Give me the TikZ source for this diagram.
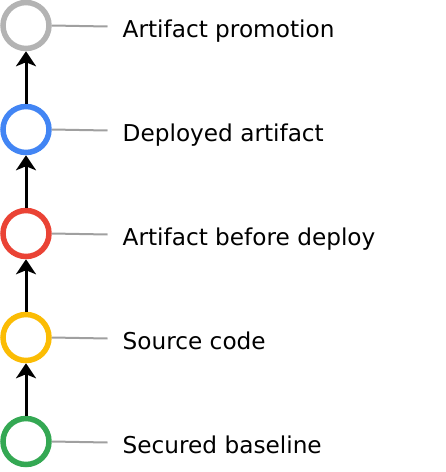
\documentclass[tikz,border=0pt]{standalone}
\usepackage{fontspec}
\setmainfont{DejaVu Sans}
\usetikzlibrary{arrows.meta}
\definecolor{cgray}{HTML}{B3B3B3}
\definecolor{cblue}{HTML}{4285F4}
\definecolor{cred}{HTML}{EA4335}
\definecolor{cyellow}{HTML}{FBBC04}
\definecolor{cgreen}{HTML}{34A853}
\definecolor{clead}{HTML}{A0A0A0}
\tikzset{
  ring/.style={circle, draw=#1, line width=5.5pt, fill=white, minimum size=46pt, inner sep=0pt},
  lead/.style={draw=clead, line width=2pt},
  up/.style={draw=black, line width=3pt, -{Stealth[length=15pt, width=20pt, inset=4pt]}},
  lbl/.style={anchor=base west, inner sep=0pt, font=\fontsize{23.2pt}{27pt}\selectfont}
}
\begin{document}
\begin{tikzpicture}[x=1pt,y=1pt]
\useasboundingbox (0,0) rectangle (446,-472);
\foreach \n/\c/\t [count=\i from 0] in {
  a/cgray/Artifact promotion,
  b/cblue/Deployed artifact,
  c/cred/Artifact before deploy,
  d/cyellow/Source code,
  e/cgreen/Secured baseline} {
  \node[ring=\c] (\n) at (26,{-25.5-104*\i}) {};
  \coordinate (\n l) at (107.5,{-26.5-104*\i});
  \draw[lead] (\n.east) -- (\n l);
  \node[lbl] (\n t) at (122.5,{-37.7-104*\i}) {\t};
}
\draw[up] (b.north) -- (a.south);
\draw[up] (c.north) -- (b.south);
\draw[up] (d.north) -- (c.south);
\draw[up] (e.north) -- (d.south);
\end{tikzpicture}
\end{document}
